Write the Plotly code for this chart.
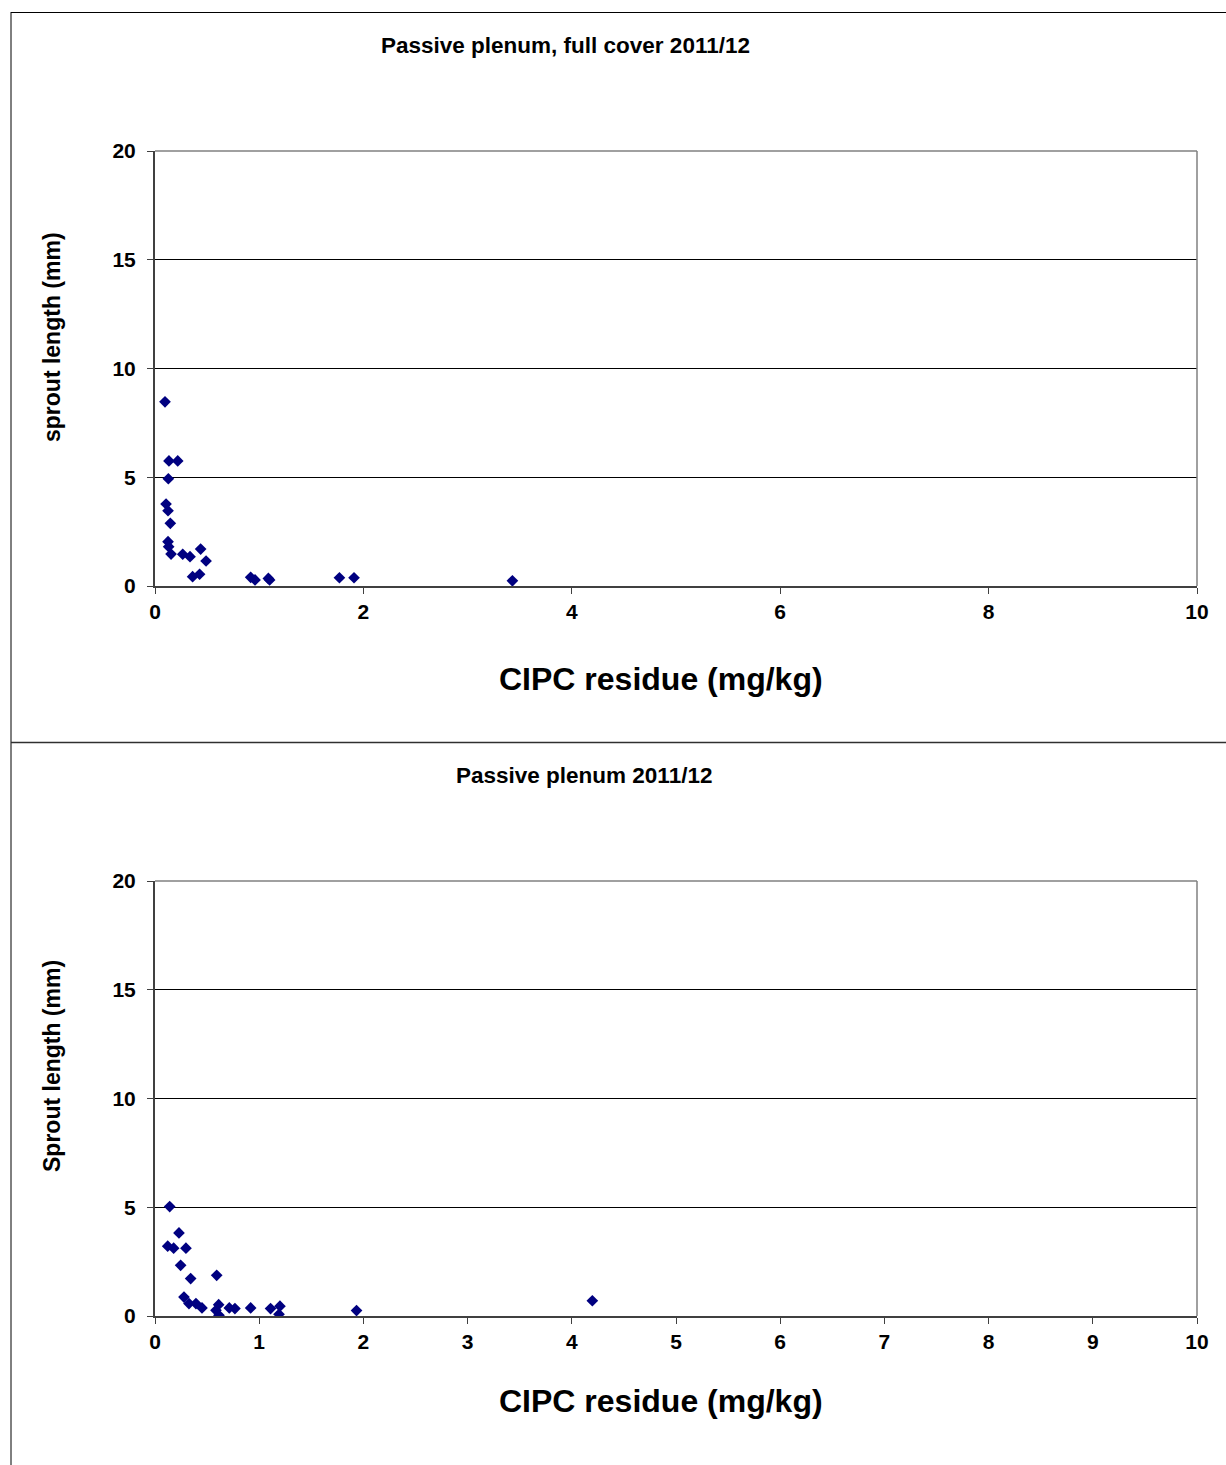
import plotly.graph_objects as go

# Top chart: Passive plenum, full cover 2011/12
top_x = [0.096, 0.134, 0.218, 0.128, 0.106, 0.125, 0.147, 0.125, 0.131, 0.154,
         0.266, 0.336, 0.438, 0.49, 0.361, 0.428, 0.918, 0.96, 1.088, 1.10,
         1.77, 1.91, 3.43]
top_y = [8.47, 5.75, 5.75, 4.93, 3.77, 3.46, 2.88, 2.04, 1.81, 1.47,
         1.46, 1.35, 1.70, 1.15, 0.43, 0.54, 0.40, 0.28, 0.35, 0.28,
         0.38, 0.38, 0.24]

# Bottom chart: Passive plenum 2011/12
bot_x = [0.141, 0.23, 0.122, 0.179, 0.297, 0.246, 0.342, 0.592, 0.278, 0.326,
         0.393, 0.451, 0.611, 0.585, 0.614, 0.713, 0.767, 0.918, 1.109, 1.199,
         1.19, 1.934, 4.197]
bot_y = [5.03, 3.82, 3.21, 3.12, 3.12, 2.33, 1.72, 1.87, 0.87, 0.57,
         0.57, 0.37, 0.52, 0.26, 0.03, 0.37, 0.34, 0.37, 0.34, 0.45,
         0.08, 0.25, 0.70]

top_title = "Passive plenum, full cover 2011/12"
bot_title = "Passive plenum 2011/12"
x_title = "CIPC residue (mg/kg)"
top_ytitle = "sprout length (mm)"
bot_ytitle = "Sprout length (mm)"
y_ticks = [0, 5, 10, 15, 20]
top_xticks = [0, 2, 4, 6, 8, 10]
bot_xticks = [0, 1, 2, 3, 4, 5, 6, 7, 8, 9, 10]

W, H = 1226, 1465
FONT = "Liberation Sans, Arial, sans-serif"
NAVY = "#000080"

fig = go.Figure()
fig.add_trace(go.Scatter(x=top_x, y=top_y, mode="markers", xaxis="x", yaxis="y",
                         marker=dict(symbol="diamond", size=9, color=NAVY), showlegend=False))
fig.add_trace(go.Scatter(x=bot_x, y=bot_y, mode="markers", xaxis="x2", yaxis="y2",
                         marker=dict(symbol="diamond", size=9, color=NAVY), showlegend=False))

xd = [155 / W, 1197 / W]
yd_top = [1 - 586 / H, 1 - 151 / H]
yd_bot = [1 - 1316 / H, 1 - 881 / H]

TICKFONT = dict(family=FONT, size=21, color="black", weight="bold")

def xaxis(domain, anchor, ticks):
    return dict(domain=domain, anchor=anchor, range=[0, 10], tickvals=ticks,
                showgrid=False, zeroline=False, showline=True, linecolor="#404040",
                linewidth=2, mirror=False, ticks="outside", ticklen=6, tickcolor="#404040",
                tickfont=TICKFONT, fixedrange=True, automargin=False)

def yaxis(domain, anchor):
    return dict(domain=domain, anchor=anchor, range=[0, 20], tickvals=y_ticks,
                showgrid=True, gridcolor="black", gridwidth=1, zeroline=False,
                showline=True, linecolor="#404040", linewidth=2, ticks="outside",
                ticklen=6, tickcolor="#404040", ticklabelstandoff=7,
                tickfont=TICKFONT, fixedrange=True, automargin=False)

fig.update_layout(
    width=W, height=H, margin=dict(l=0, r=0, t=0, b=0, pad=0), autosize=False,
    paper_bgcolor="white", plot_bgcolor="white",
    xaxis=xaxis(xd, "y", top_xticks), yaxis=yaxis(yd_top, "x"),
    xaxis2=xaxis(xd, "y2", bot_xticks), yaxis2=yaxis(yd_bot, "x2"),
)

def px(x):
    return x / W

def py(y):
    return 1 - y / H

shapes = []
# plot-area borders (top and right, gray)
for (t, b) in [(151, 586), (881, 1316)]:
    shapes.append(dict(type="line", xref="paper", yref="paper", x0=px(155), x1=px(1197),
                       y0=py(t), y1=py(t), line=dict(color="#808080", width=1.5)))
    shapes.append(dict(type="line", xref="paper", yref="paper", x0=px(1197), x1=px(1197),
                       y0=py(t), y1=py(b), line=dict(color="#808080", width=1.5)))
# outer frame
shapes.append(dict(type="line", xref="paper", yref="paper", x0=px(11), x1=px(1226),
                   y0=py(12.5), y1=py(12.5), line=dict(color="black", width=1)))
shapes.append(dict(type="line", xref="paper", yref="paper", x0=px(11), x1=px(11),
                   y0=py(12), y1=py(1465), line=dict(color="black", width=1)))
shapes.append(dict(type="line", xref="paper", yref="paper", x0=px(11), x1=px(1226),
                   y0=py(742.5), y1=py(742.5), line=dict(color="#303030", width=1.5)))
fig.update_layout(shapes=shapes)

ann = []
def text(t, x, y, size, angle=0):
    ann.append(dict(text="<b>" + t + "</b>", x=px(x), y=py(y), xref="paper", yref="paper",
                    showarrow=False, xanchor="center", yanchor="middle", textangle=angle,
                    font=dict(family=FONT, size=size, color="black")))

text(top_title, 565, 45, 22.5)
text(bot_title, 584, 776, 22.5)
text(x_title, 661, 679, 32)
text(x_title, 661, 1401, 32)
text(top_ytitle, 52, 337, 23, -90)
text(bot_ytitle, 52, 1066, 23, -90)
fig.update_layout(annotations=ann)

fig.write_html("out.html", config={"displayModeBar": False},
               post_script="document.body.style.margin='0';document.body.style.overflow='hidden';")
